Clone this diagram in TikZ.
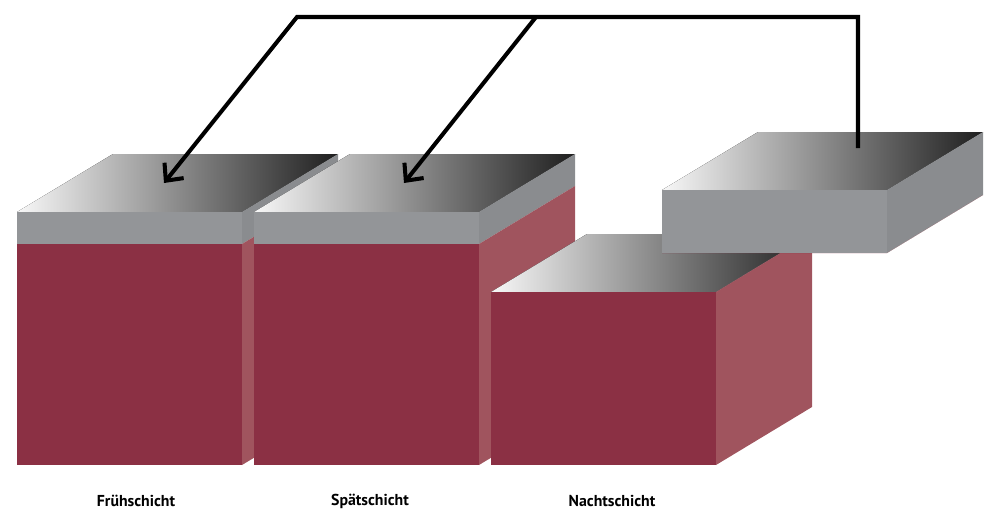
\documentclass[tikz,border=0pt]{standalone}
\usepackage{fontspec}
\setmainfont{PT Sans}
\usetikzlibrary{arrows.meta}
\definecolor{wine}{RGB}{139, 48, 68}
\definecolor{wine2}{RGB}{160, 84, 94}
\definecolor{steel}{RGB}{147, 149, 152}
\definecolor{steel2}{RGB}{138, 140, 143}
\definecolor{steel3}{RGB}{162, 164, 167}
\def\thickness{2.3pt}
\tikzset{
toptile/.style={shade, left color=gray!6, middle color=steel3, right color=black!88},
handover/.style={line width=\thickness, line join=miter,
	-{Straight Barb[length=7.5pt, width=14pt]}},
shiftlabel/.style={font=\bfseries\fontsize{9}{11}\selectfont, inner sep=1pt},
}
% one block: x, top, end of grey band, bottom (pixel units, y downwards)
\newcommand{\schicht}[4]{%
	\fill[toptile] (#1,#2) -- ++(225,0) -- ++(96,-58) -- ++(-225,0) -- cycle;
	\fill[steel] (#1,#2) rectangle (#1+225,#3);
	\fill[wine] (#1,#3) rectangle (#1+225,#4);
	\fill[steel2] (#1+225,#2) -- (#1+321,#2-58) -- (#1+321,#3-58) -- (#1+225,#3) -- cycle;
	\fill[wine2] (#1+225,#3) -- (#1+321,#3-58) -- (#1+321,#4-58) -- (#1+225,#4) -- cycle;
}

\begin{document}
\begin{tikzpicture}[x=0.02cm, y=-0.02cm]
\useasboundingbox (0,0) rectangle (1000,521);

%Draw the blocks, back to front
\schicht{17}{212}{244}{465}
\schicht{254}{212}{244}{465}
\schicht{491}{292}{292}{465}
\schicht{662}{190}{253}{253}

%Place the labels
\node[shiftlabel] (frueh) at (136,501) {Frühschicht};
\node[shiftlabel] (spaet) at (370,501) {Spätschicht};
\node[shiftlabel] (nacht) at (612,501) {Nachtschicht};

%Arrow points
\coordinate (from) at (858,148);
\coordinate (bend1) at (297,17);
\coordinate (bend2) at (536,17);
\coordinate (to1) at (164,183);
\coordinate (to2) at (404,183);

\draw[handover] (from) |- (bend1) -- (to1);
\draw[handover] (bend2) -- (to2);

\end{tikzpicture}
\end{document}
